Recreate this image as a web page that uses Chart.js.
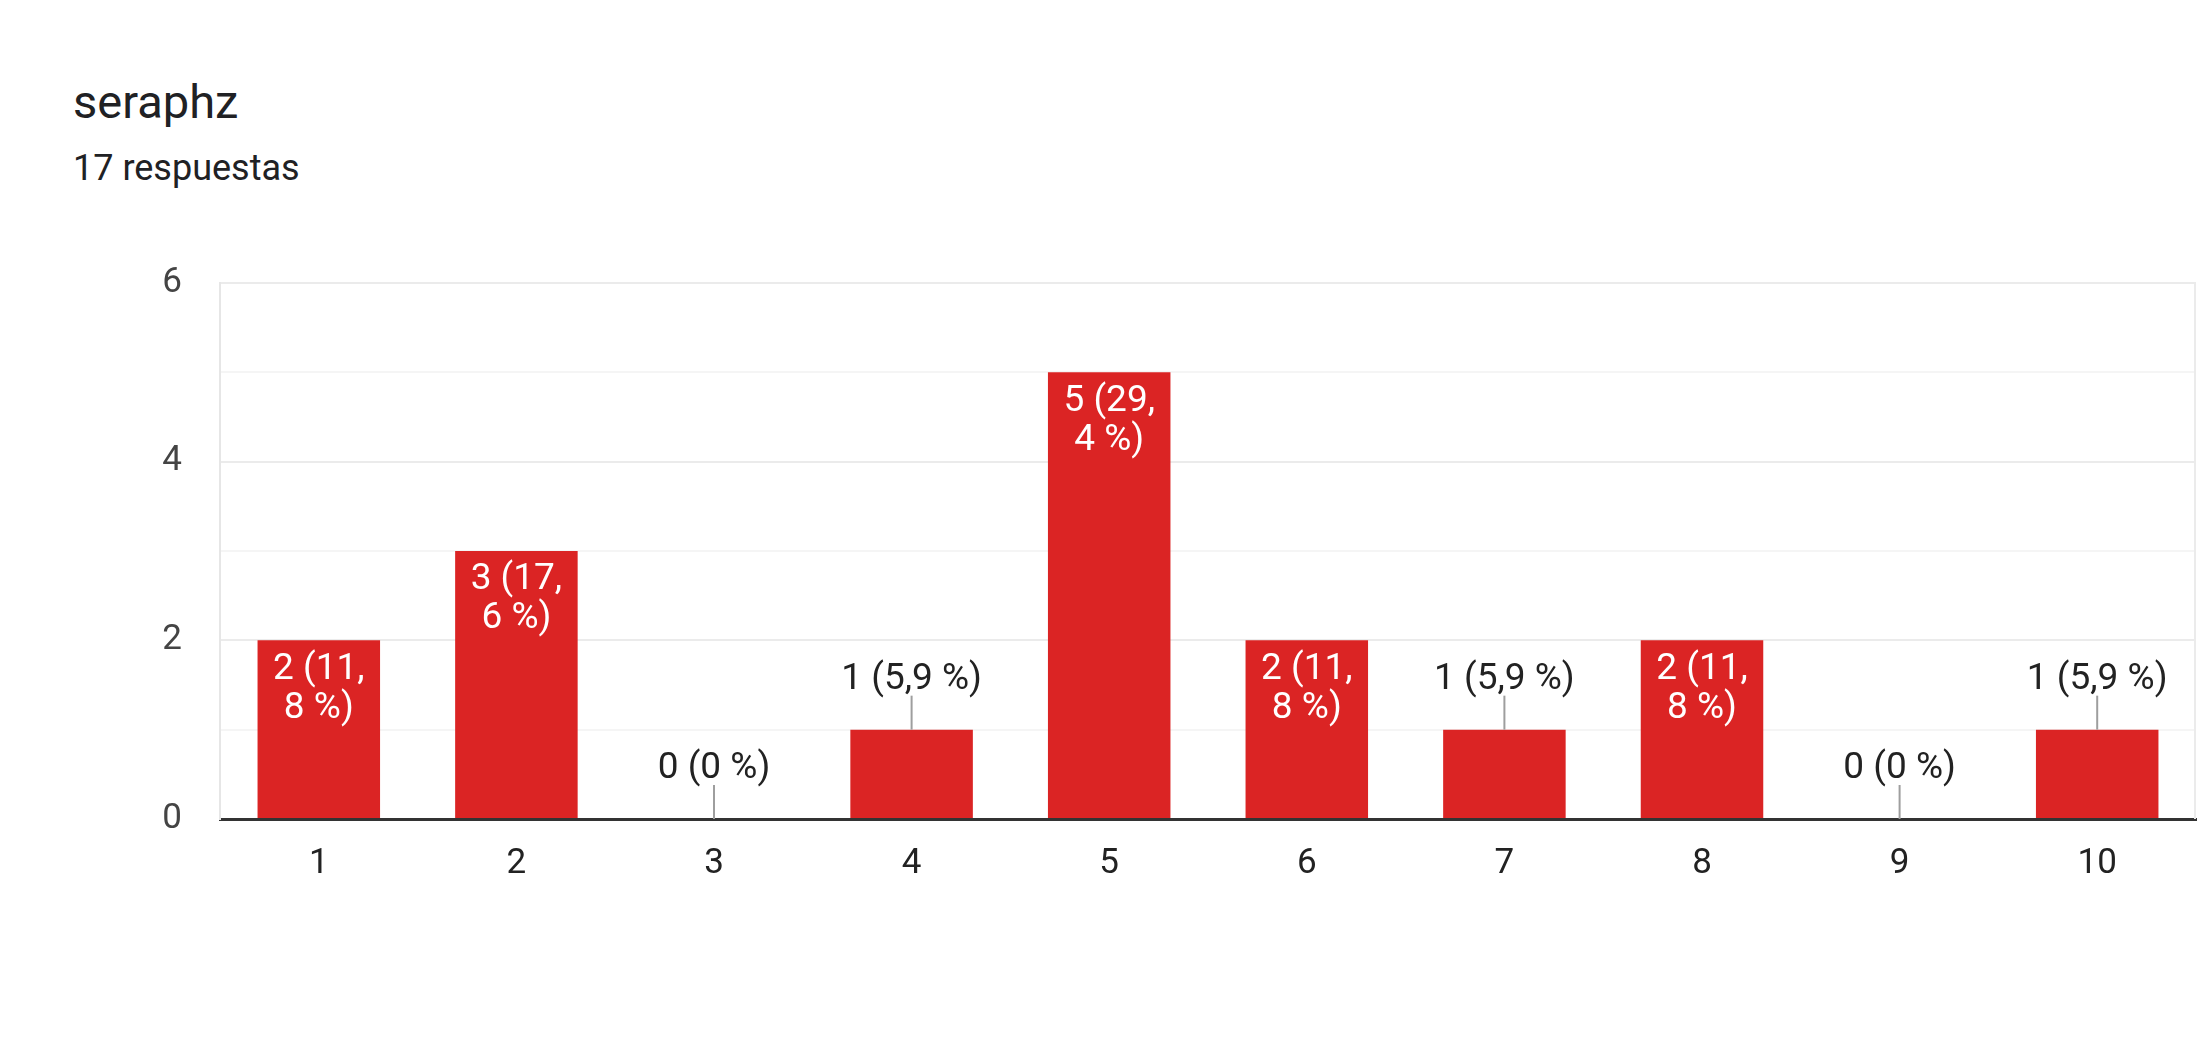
<!DOCTYPE html>
<html>
<head>
<meta charset="utf-8">
<script src="https://cdn.jsdelivr.net/npm/chart.js@4"></script>
<style>
  html, body { margin: 0; padding: 0; background: #fff; }
  body { width: 2199px; height: 1044px; position: relative; overflow: hidden; font-family: Roboto, sans-serif; }
  #title { position: absolute; left: 73px; top: 78px; font-size: 47px; line-height: 1; color: #202124; }
  #sub { position: absolute; left: 73px; top: 150px; font-size: 36px; line-height: 1; color: #202124; }
  #wrap { position: absolute; left: 0; top: 0; width: 2199px; height: 1044px; }
</style>
</head>
<body>
<div id="title">seraphz</div>
<div id="sub">17 respuestas</div>
<div id="wrap"><canvas id="chart"></canvas></div>
<script>
const categories = ["1", "2", "3", "4", "5", "6", "7", "8", "9", "10"];
const counts = [2, 3, 0, 1, 5, 2, 1, 2, 0, 1];
const percents = ["11,8", "17,6", "0", "5,9", "29,4", "11,8", "5,9", "11,8", "0", "5,9"];
const yTicks = [0, 2, 4, 6];

const barRed = "#db2424";

// labels: inside the bar (white, two lines) when it fits, else above with a small leader line
const barLabels = {
  id: "barLabels",
  afterDatasetsDraw(chart) {
    const ctx = chart.ctx;
    const meta = chart.getDatasetMeta(0);
    ctx.save();
    ctx.font = "37px Roboto";
    ctx.textAlign = "center";
    ctx.textBaseline = "middle";
    meta.data.forEach((bar, i) => {
      const v = counts[i];
      const p = percents[i];
      if (v >= 2) {
        const parts = p.split(",");
        ctx.fillStyle = "#fff";
        ctx.fillText(v + " (" + parts[0] + ",", bar.x, bar.y + 29);
        ctx.fillText(parts[1] + " %)", bar.x, bar.y + 68);
      } else {
        ctx.strokeStyle = "#9e9e9e";
        ctx.lineWidth = 2;
        ctx.beginPath();
        ctx.moveTo(bar.x, bar.y);
        ctx.lineTo(bar.x, bar.y - 34);
        ctx.stroke();
        ctx.fillStyle = "#222";
        ctx.fillText(v + " (" + p + " %)", bar.x, bar.y - 50);
      }
    });
    // thin frame on the right side of the plot
    const a = chart.chartArea;
    ctx.strokeStyle = "#ebebeb";
    ctx.lineWidth = 2;
    ctx.beginPath();
    ctx.moveTo(a.right - 1, a.top);
    ctx.lineTo(a.right - 1, a.bottom);
    ctx.stroke();
    ctx.restore();
  }
};

new Chart(document.getElementById("chart"), {
  type: "bar",
  data: {
    labels: categories,
    datasets: [{
      data: counts,
      backgroundColor: barRed,
      borderWidth: 0,
      categoryPercentage: 1,
      barPercentage: 0.62
    }]
  },
  options: {
    responsive: true,
    maintainAspectRatio: false,
    animation: false,
    layout: { padding: { top: 283, right: 3, bottom: 125, left: 0 } },
    plugins: {
      legend: { display: false },
      tooltip: { enabled: false }
    },
    scales: {
      x: {
        grid: { display: false },
        border: { color: "#333", width: 3 },
        ticks: { color: "#222", font: { family: "Roboto", size: 35 }, padding: 16 },
        afterFit(scale) { scale.height = 100; }
      },
      y: {
        min: 0,
        max: 6,
        border: { color: "#e6e6e6", width: 2 },
        grid: {
          drawTicks: false,
          color: (c) => (c.tick.value % 2 === 0 ? "#ebebeb" : "#f5f5f5"),
          lineWidth: 2
        },
        ticks: {
          stepSize: 1,
          color: "#444",
          font: { family: "Roboto", size: 35 },
          padding: 38,
          callback: (v) => (yTicks.includes(v) ? v : "")
        },
        afterFit(scale) { scale.width = 220; }
      }
    }
  },
  plugins: [barLabels]
});
</script>
</body>
</html>
